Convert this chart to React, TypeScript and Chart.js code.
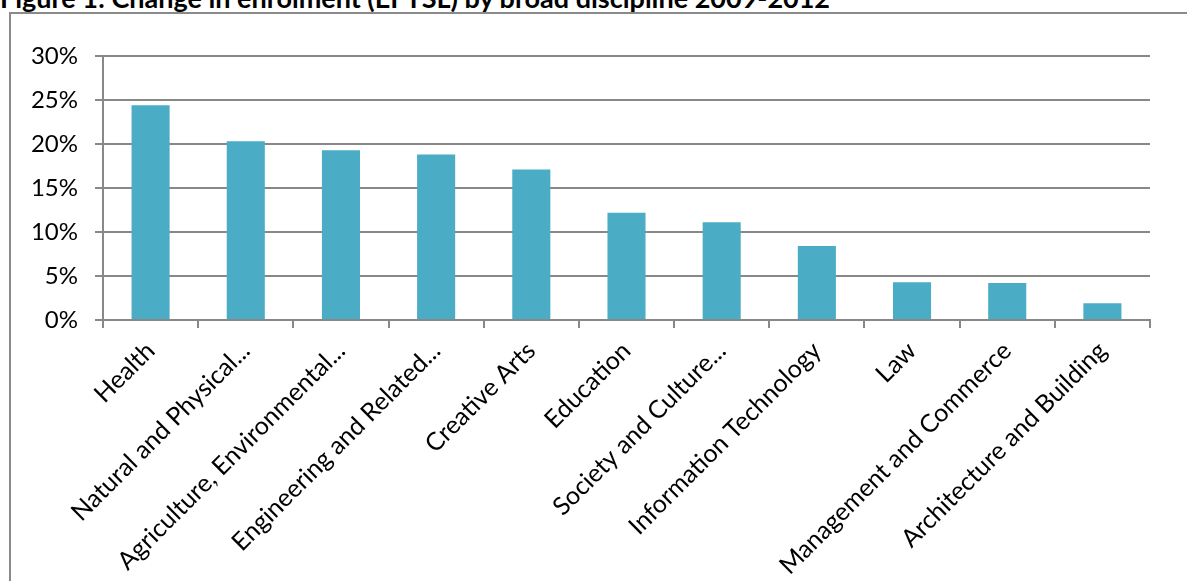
import React, { useEffect, useRef } from "react";
import { Chart, registerables } from "chart.js";

Chart.register(...registerables);

const categories: string[] = [
  "Health",
  "Natural and Physical...",
  "Agriculture, Environmental...",
  "Engineering and Related...",
  "Creative Arts",
  "Education",
  "Society and Culture...",
  "Information Technology",
  "Law",
  "Management and Commerce",
  "Architecture and Building",
];

const changePct: number[] = [24.4, 20.3, 19.3, 18.8, 17.1, 12.2, 11.1, 8.4, 4.3, 4.2, 1.9];

const yTicks: number[] = [0, 5, 10, 15, 20, 25, 30];

const titleText = "Figure 1: Change in enrolment (EFTSL) by broad discipline 2009-2012";

const FONT = "Lato, 'Open Sans', sans-serif";
const GRID = "#888888";

export default function App() {
  const ref = useRef<HTMLCanvasElement | null>(null);

  useEffect(() => {
    if (!ref.current) return;
    const chart = new Chart(ref.current, {
      type: "bar",
      data: {
        labels: categories,
        datasets: [
          {
            data: changePct,
            backgroundColor: "#4BACC6",
            borderWidth: 0,
            barPercentage: 1,
            categoryPercentage: 0.4,
          },
        ],
      },
      options: {
        responsive: false,
        animation: false,
        events: [],
        layout: { padding: { top: 56, right: 37, left: 0, bottom: 0 } },
        plugins: { legend: { display: false }, title: { display: false }, tooltip: { enabled: false } },
        scales: {
          x: {
            afterFit: (s: any) => {
              s.height = 581 - 320;
            },
            border: { display: true, color: GRID, width: 2 },
            grid: {
              offset: true,
              drawOnChartArea: false,
              drawTicks: true,
              tickLength: 8,
              color: GRID,
              lineWidth: 2,
            },
            ticks: {
              autoSkip: false,
              maxRotation: 45,
              minRotation: 45,
              padding: 8,
              color: "#000",
              font: { family: FONT, size: 25 },
            },
          },
          y: {
            min: 0,
            max: 30,
            afterFit: (s: any) => {
              s.width = 103;
            },
            afterBuildTicks: (s: any) => {
              s.ticks = yTicks.map((v) => ({ value: v }));
            },
            border: { display: true, color: GRID, width: 2 },
            grid: {
              drawTicks: true,
              tickLength: 8,
              color: GRID,
              lineWidth: 2,
            },
            ticks: {
              padding: 17,
              color: "#000",
              font: { family: FONT, size: 24 },
              callback: (v: any) => v + "%",
            },
          },
        },
      },
    });
    return () => chart.destroy();
  }, []);

  return (
    <div style={{ position: "absolute", left: 0, top: 0, width: 1187, height: 581, overflow: "hidden", background: "#fff" }}>
      <div
        style={{
          position: "absolute",
          left: 0,
          top: -16,
          whiteSpace: "nowrap",
          fontFamily: FONT,
          fontWeight: 700,
          fontSize: 27,
          lineHeight: "27px",
          color: "#000",
        }}
      >
        {titleText}
      </div>
      <div
        style={{
          position: "absolute",
          left: 9,
          top: 12,
          width: 1400,
          height: 800,
          borderLeft: "2px solid #8a8a8a",
          borderTop: "2px solid #8a8a8a",
        }}
      />
      <canvas ref={ref} width={1187} height={581} style={{ position: "absolute", left: 0, top: 0 }} />
    </div>
  );
}
